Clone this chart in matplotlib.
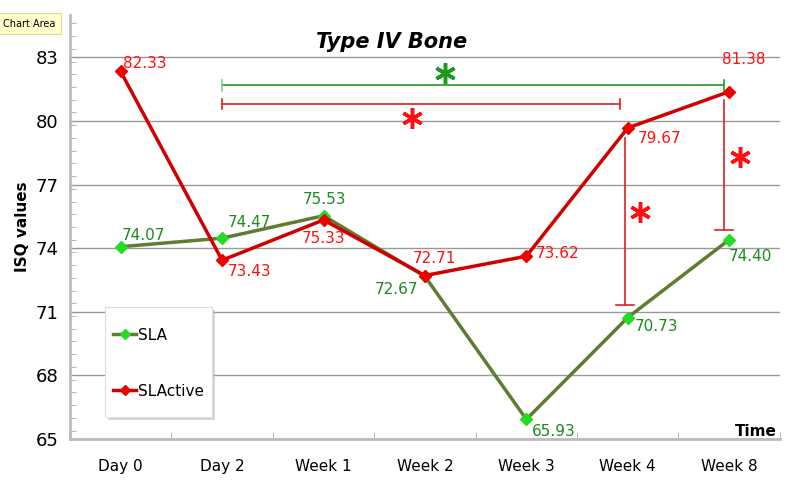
import matplotlib
matplotlib.use("Agg")
import matplotlib.pyplot as plt
from matplotlib.patches import Rectangle
from matplotlib.ticker import MultipleLocator

categories = ["Day 0", "Day 2", "Week 1", "Week 2", "Week 3", "Week 4", "Week 8"]
sla = [74.07, 74.47, 75.53, 72.67, 65.93, 70.73, 74.40]
slactive = [82.33, 73.43, 75.33, 72.71, 73.62, 79.67, 81.38]

# label offsets in points (dx, dy, ha, va)
sla_off = [(1, 3, "left", "bottom"), (4, 6, "left", "bottom"), (1, 6, "center", "bottom"),
           (-5, -4, "right", "top"), (4, -3, "left", "top"), (5, -1, "left", "top"),
           (0, -7, "left", "top")]
act_off = [(2, 0, "left", "bottom"), (4, -3, "left", "top"), (0, -8, "center", "top"),
           (7, 7, "center", "bottom"), (7, 2, "left", "center"), (7, -2, "left", "top"),
           (-5, 18, "left", "bottom")]

GREEN_LINE = "#5e7d32"
GREEN_MK = "#22dd22"
GREEN_TXT = "#1c8a1c"
RED_LINE = "#d00000"
RED_TXT = "#ff1010"
STAR = (6, 2, 0)

fig = plt.figure(figsize=(7.95, 4.95), dpi=100)
ax = fig.add_axes([0.088, 0.113, 0.893, 0.857])

x = [i + 0.5 for i in range(len(categories))]
ax.plot(x, sla, color=GREEN_LINE, lw=2.5, marker="D", ms=6, mfc=GREEN_MK,
        mec=GREEN_MK, label="SLA", zorder=3)
ax.plot(x, slactive, color=RED_LINE, lw=2.5, marker="D", ms=6, mfc="#ee0000",
        mec="#ee0000", label="SLActive", zorder=3)

for xi, v, (dx, dy, ha, va) in zip(x, sla, sla_off):
    ax.annotate(f"{v:.2f}", (xi, v), xytext=(dx, dy), textcoords="offset points",
                ha=ha, va=va, color=GREEN_TXT, fontsize=11)
for xi, v, (dx, dy, ha, va) in zip(x, slactive, act_off):
    ax.annotate(f"{v:.2f}", (xi, v), xytext=(dx, dy), textcoords="offset points",
                ha=ha, va=va, color=RED_TXT, fontsize=11)

# significance brackets
ax.plot([x[1], x[6] - 0.05], [81.68, 81.68], color="#229922", lw=1.2)
ax.plot([x[1], x[1]], [81.43, 81.93], color="#88cc88", lw=1.2)
ax.plot([x[6] - 0.05, x[6] - 0.05], [81.43, 81.93], color="#229922", lw=1.2)
ax.plot(3.70, 82.25, marker=STAR, ms=15, mew=2.5, color="#1a9a1a")

ax.plot([x[1], x[5] - 0.08], [80.8, 80.8], color="#dd2222", lw=1.2)
ax.plot([x[1], x[1]], [80.55, 81.05], color="#dd2222", lw=1.2)
ax.plot([x[5] - 0.08, x[5] - 0.08], [80.55, 81.05], color="#dd2222", lw=1.2)
ax.plot(3.37, 80.12, marker=STAR, ms=15, mew=2.5, color="#ff1010")

ax.plot([x[5] - 0.03, x[5] - 0.03], [79.18, 71.3], color="#dd2222", lw=1.2)
ax.plot([x[5] - 0.12, x[5] + 0.06], [71.3, 71.3], color="#dd2222", lw=1.2)
ax.plot(5.62, 75.69, marker=STAR, ms=15, mew=2.5, color="#ff1010")

ax.plot([x[6] - 0.05, x[6] - 0.05], [81.0, 74.84], color="#dd2222", lw=1.2)
ax.plot([x[6] - 0.14, x[6] + 0.04], [74.84, 74.84], color="#dd2222", lw=1.2)
ax.plot(6.61, 78.28, marker=STAR, ms=15, mew=2.5, color="#ff1010")

ax.set_xlim(0, 7)
ax.set_ylim(65, 85)
ax.set_yticks([65, 68, 71, 74, 77, 80, 83])
ax.yaxis.set_minor_locator(MultipleLocator(0.6))
ax.set_xticks(x)
ax.set_xticklabels(categories, fontsize=11)
ax.set_xticks([i * 0.5 for i in range(15)], minor=True)
ax.tick_params(axis="x", which="major", length=0, pad=14)
ax.tick_params(axis="x", which="minor", length=5, color="#aaaaaa", direction="in")
ax.tick_params(axis="y", which="major", length=0, labelsize=13, pad=8)
ax.tick_params(axis="y", which="minor", length=4, color="#aaaaaa", direction="in")
ax.grid(axis="y", which="major", color="#999999", lw=1)
for side in ["top", "right"]:
    ax.spines[side].set_visible(False)
for side in ["left", "bottom"]:
    ax.spines[side].set_color("#bbbbbb")
    ax.spines[side].set_linewidth(2)

ax.set_ylabel("ISQ values", fontsize=11, fontweight="bold", labelpad=4)
ax.text(0.995, 0.0, "Time", transform=ax.transAxes, ha="right", va="bottom",
        fontsize=11, fontweight="bold")
fig.text(0.493, 0.915, "Type IV Bone", ha="center", va="center", fontsize=15,
         fontweight="bold", style="italic")

# legend box drawn by hand (tall, narrow, with drop shadow)
ax.add_patch(Rectangle((0.054, 0.045), 0.151, 0.259, transform=ax.transAxes,
                       fc="#bbbbbb", ec="none", alpha=0.6, zorder=4))
ax.add_patch(Rectangle((0.049, 0.052), 0.151, 0.259, transform=ax.transAxes,
                       fc="white", ec="#dddddd", lw=0.8, zorder=5))
leg = ax.legend(loc="center left", bbox_to_anchor=(0.061, 0.179), fontsize=11,
                frameon=False, labelspacing=2.67, handlelength=1.5,
                handletextpad=0.1, borderpad=0, borderaxespad=0, markerscale=0.8)
leg.set_zorder(6)

fig.text(0.004, 0.952, "Chart Area", fontsize=7, ha="left", va="center",
         bbox=dict(boxstyle="square,pad=0.55", fc="#ffffcc", ec="#dddd99", lw=0.8))

fig.savefig("out.png", dpi=100)
